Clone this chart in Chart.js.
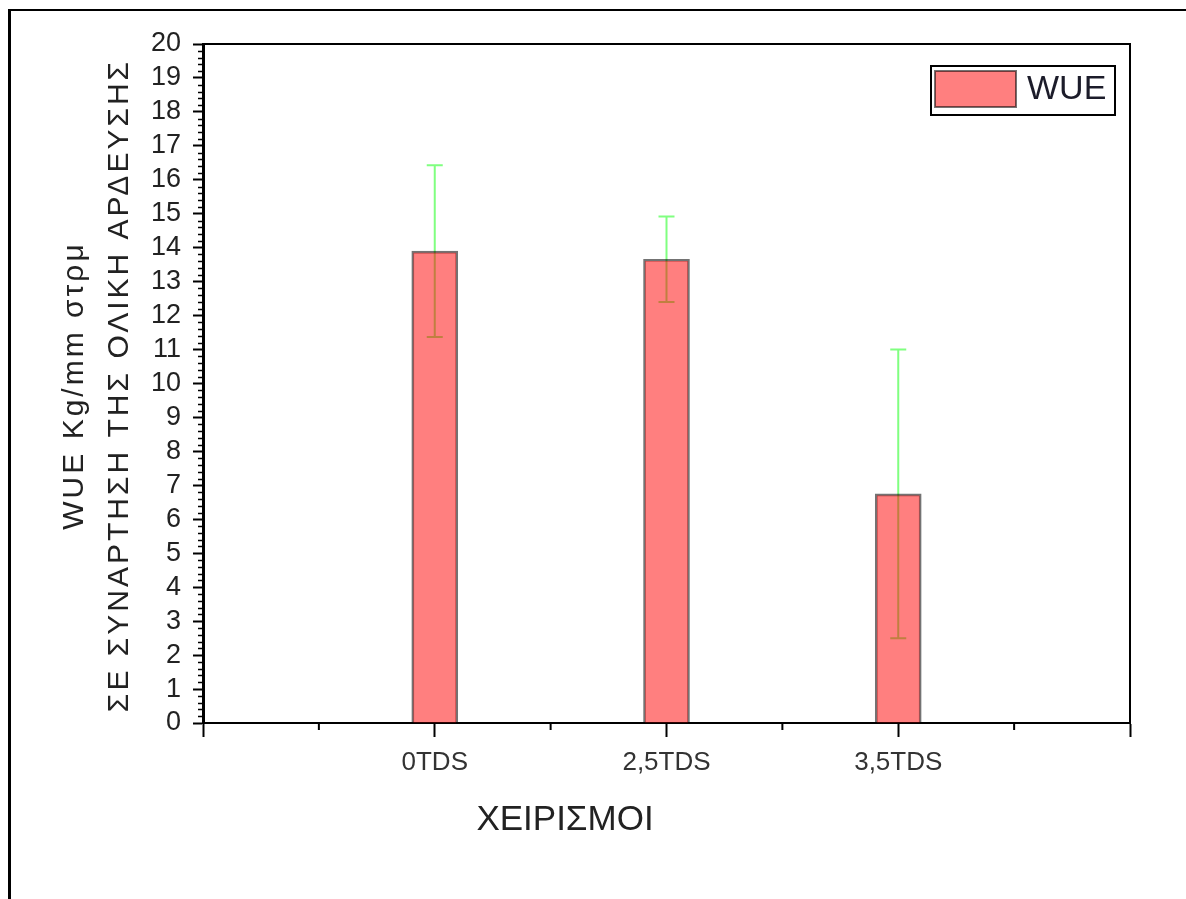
<!DOCTYPE html>
<html>
<head>
<meta charset="utf-8">
<script src="https://cdn.jsdelivr.net/npm/chart.js@4.4.1/dist/chart.umd.min.js"></script>
<style>
    html, body { margin: 0; padding: 0; background: #fff; }
    #wrap { position: relative; width: 1186px; height: 899px; overflow: hidden; }
    #frame { position: absolute; left: 8px; top: 9px; right: 0; bottom: 0; border-left: 3px solid #000; border-top: 2px solid #000; pointer-events: none; }
</style>
</head>
<body>
<div id="wrap">
    <canvas id="wueChart" width="1186" height="899"></canvas>
    <div id="frame"></div>
</div>
<script>
// Data
const tickLabels = ['', '', '0TDS', '', '2,5TDS', '', '3,5TDS', '', ''];
const categories = ['0TDS', '2,5TDS', '3,5TDS'];
const wueValues = [13.9, 13.66, 6.75];
const wueErrors = [2.53, 1.26, 4.25];
const yTitleLines = ['WUE Kg/mm στρμ', 'ΣΕ ΣΥΝΑΡΤΗΣΗ ΤΗΣ ΟΛΙΚΗ ΑΡΔΕΥΣΗΣ'];
const xTitle = 'ΧΕΙΡΙΣΜΟΙ';

const FONT = '"Liberation Sans", Arial, sans-serif';
Chart.defaults.font.family = FONT;

// Error bars drawn before the bars so the translucent fill tints them
const errorBars = {
    id: 'errorBars',
    beforeDatasetsDraw(chart) {
        const meta = chart.getDatasetMeta(0);
        const y = chart.scales.y;
        const ctx = chart.ctx;
        ctx.save();
        ctx.strokeStyle = '#80ff80';
        ctx.lineWidth = 2;
        meta.data.forEach((bar, i) => {
            const top = y.getPixelForValue(wueValues[i] + wueErrors[i]);
            const bottom = y.getPixelForValue(wueValues[i] - wueErrors[i]);
            ctx.beginPath();
            ctx.moveTo(bar.x, top); ctx.lineTo(bar.x, bottom);
            ctx.moveTo(bar.x - 8, top); ctx.lineTo(bar.x + 8, top);
            ctx.moveTo(bar.x - 8, bottom); ctx.lineTo(bar.x + 8, bottom);
            ctx.stroke();
        });
        ctx.restore();
    }
};

// Plot frame (top/right) and minor ticks
const frameTicks = {
    id: 'frameTicks',
    afterDraw(chart) {
        const { ctx, chartArea } = chart;
        const x = chart.scales.x;
        const y = chart.scales.y;
        ctx.save();
        ctx.strokeStyle = '#000';
        ctx.lineWidth = 2;
        ctx.beginPath();
        ctx.moveTo(chartArea.left - 1, chartArea.top);
        ctx.lineTo(chartArea.right, chartArea.top);
        ctx.lineTo(chartArea.right, chartArea.bottom);
        ctx.stroke();
        // y minor ticks every 0.2
        ctx.lineWidth = 1.5;
        ctx.beginPath();
        for (let k = 0; k <= 100; k++) {
            if (k % 5 === 0) continue;
            const py = Math.round(y.getPixelForValue(k * 0.2)) + 0.5;
            ctx.moveTo(chartArea.left - 5, py);
            ctx.lineTo(chartArea.left, py);
        }
        ctx.stroke();
        // x minor ticks at odd positions
        ctx.lineWidth = 2;
        ctx.beginPath();
        for (let i = 1; i < tickLabels.length; i += 2) {
            const px = x.getPixelForTick(i);
            ctx.moveTo(px, chartArea.bottom);
            ctx.lineTo(px, chartArea.bottom + 7);
        }
        ctx.stroke();
        ctx.restore();
    }
};

// Boxed legend in the top right of the plot
const boxLegend = {
    id: 'boxLegend',
    afterDraw(chart) {
        const { ctx, chartArea } = chart;
        const ds = chart.data.datasets[0];
        const w = 184, h = 49;
        const left = chartArea.right - 15 - w;
        const top = chartArea.top + 22;
        ctx.save();
        ctx.lineWidth = 2;
        ctx.strokeStyle = '#000';
        ctx.strokeRect(left, top, w, h);
        ctx.fillStyle = ds.backgroundColor;
        ctx.fillRect(left + 4, top + 5, 81, 36);
        ctx.strokeStyle = ds.borderColor;
        ctx.strokeRect(left + 4, top + 5, 81, 36);
        ctx.fillStyle = '#1c1c2a';
        ctx.font = '34px ' + FONT;
        ctx.textBaseline = 'middle';
        ctx.fillText(ds.label, left + 96, top + 24);
        ctx.restore();
    }
};

// Two-line rotated y title, slightly letter spaced like the original
const yTitle = {
    id: 'yTitle',
    afterDraw(chart) {
        const { ctx, chartArea } = chart;
        const cy = (chartArea.top + chartArea.bottom) / 2 + 2;
        const xs = [75, 120];
        ctx.save();
        ctx.fillStyle = '#222';
        ctx.font = '30px ' + FONT;
        ctx.textAlign = 'center';
        ctx.textBaseline = 'middle';
        yTitleLines.forEach((line, i) => {
            ctx.save();
            ctx.translate(xs[i], cy);
            ctx.rotate(-Math.PI / 2);
            ctx.letterSpacing = '3px';
            ctx.fillText(line, 0, 0);
            ctx.restore();
        });
        ctx.restore();
    }
};

new Chart(document.getElementById('wueChart'), {
    type: 'bar',
    data: {
        labels: tickLabels,
        datasets: [{
            label: 'WUE',
            data: categories.map((c, i) => ({ x: c, y: wueValues[i] })),
            backgroundColor: 'rgba(255, 0, 0, 0.5)',
            borderColor: 'rgba(0, 0, 0, 0.55)',
            borderWidth: 2,
            barThickness: 46
        }]
    },
    options: {
        responsive: false,
        animation: false,
        layout: { padding: { left: 0, right: 56, top: 44, bottom: 0 } },
        plugins: {
            legend: { display: false },
            tooltip: { enabled: false },
            title: {
                display: true,
                text: xTitle,
                position: 'bottom',
                color: '#222',
                font: { size: 35, weight: 'normal' },
                padding: { top: 16, bottom: 58 }
            }
        },
        scales: {
            x: {
                offset: false,
                afterFit: (scale) => { scale.height = 60; },
                grid: {
                    drawOnChartArea: false,
                    offset: false,
                    tickLength: 14,
                    tickWidth: 2,
                    tickColor: (c) => (c.index % 2 ? 'rgba(0,0,0,0)' : '#000')
                },
                border: { color: '#000', width: 2 },
                ticks: {
                    autoSkip: false,
                    maxRotation: 0,
                    padding: 10,
                    color: '#333',
                    font: { size: 26 }
                }
            },
            y: {
                min: 0,
                max: 20,
                afterFit: (scale) => { scale.width = 203; },
                grid: {
                    drawOnChartArea: false,
                    tickLength: 10,
                    tickWidth: 2,
                    tickColor: '#000'
                },
                border: { color: '#000', width: 3 },
                ticks: {
                    stepSize: 1,
                    autoSkip: false,
                    padding: 12,
                    color: '#222',
                    font: { size: 27 }
                }
            }
        }
    },
    plugins: [errorBars, frameTicks, boxLegend, yTitle]
});
</script>
</body>
</html>
